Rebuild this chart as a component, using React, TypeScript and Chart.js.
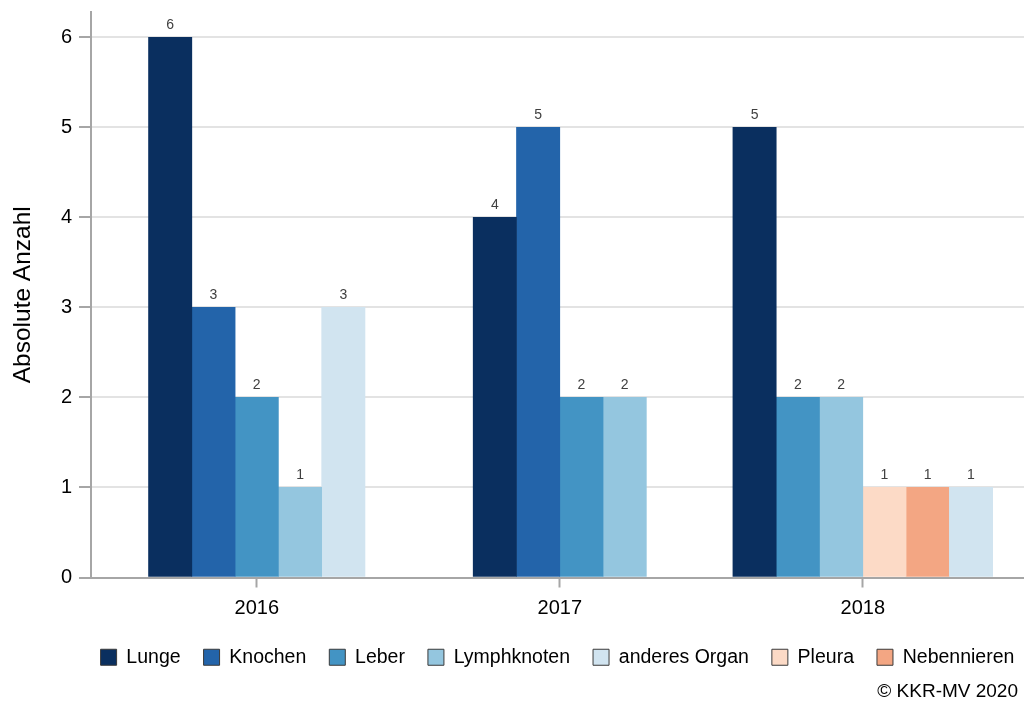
import React, { useEffect, useRef } from 'react';
import { Chart, registerables } from 'chart.js';

Chart.register(...registerables);

const FONT = '"Liberation Sans", Arial, Helvetica, sans-serif';

const years = ['2016', '2017', '2018'];
const seriesNames = ['Lunge', 'Knochen', 'Leber', 'Lymphknoten', 'anderes Organ', 'Pleura', 'Nebennieren'];
const lunge = [6, 4, 5];
const knochen = [3, 5, 0];
const leber = [2, 2, 2];
const lymphknoten = [1, 2, 2];
const anderesOrgan = [3, 0, 1];
const pleura = [0, 0, 1];
const nebennieren = [0, 0, 1];
const seriesColors = ['#0a2f5f', '#2364aa', '#4394c4', '#94c6df', '#d1e4f0', '#fcdac6', '#f3a683'];
// order in which bars appear inside a year group
const barOrder = ['Lunge', 'Knochen', 'Leber', 'Lymphknoten', 'Pleura', 'Nebennieren', 'anderes Organ'];
const yTicks = [0, 1, 2, 3, 4, 5, 6];
const yTitle = 'Absolute Anzahl';
const copyright = '© KKR-MV 2020';

const seriesValues: Record<string, number[]> = {
  'Lunge': lunge,
  'Knochen': knochen,
  'Leber': leber,
  'Lymphknoten': lymphknoten,
  'anderes Organ': anderesOrgan,
  'Pleura': pleura,
  'Nebennieren': nebennieren,
};

const SLOT = 1 / 7;

function buildPoints(name: string) {
  const pts: { x: number; y: number }[] = [];
  years.forEach((_, g) => {
    const v = seriesValues[name][g];
    if (!v) return;
    const present = barOrder.filter((n) => seriesValues[n][g] > 0);
    const i = present.indexOf(name);
    pts.push({ x: g + (i - (present.length - 1) / 2) * SLOT, y: v });
  });
  return pts;
}

const valueLabelPlugin = {
  id: 'valueLabels',
  afterDatasetsDraw(chart: any) {
    const ctx = chart.ctx;
    ctx.save();
    ctx.font = `14px ${FONT}`;
    ctx.fillStyle = '#404040';
    ctx.textAlign = 'center';
    ctx.textBaseline = 'alphabetic';
    chart.data.datasets.forEach((ds: any, i: number) => {
      const meta = chart.getDatasetMeta(i);
      meta.data.forEach((el: any, j: number) => {
        const v = ds.data[j].y;
        ctx.fillText(String(v), el.x, el.y - 8);
      });
    });
    ctx.restore();
  },
};

// center the single-row legend over the plot area instead of the canvas
const legendAlignPlugin = {
  id: 'legendOverPlot',
  afterLayout(chart: any) {
    const lg = chart.legend;
    if (!lg) return;
    lg.left = chart.chartArea.left - 40;
    lg.right = chart.chartArea.right + 40;
    lg.width = lg.right - lg.left;
  },
};

const copyrightPlugin = {
  id: 'copyrightText',
  afterDraw(chart: any) {
    const ctx = chart.ctx;
    ctx.save();
    ctx.font = `19px ${FONT}`;
    ctx.fillStyle = '#000';
    ctx.textAlign = 'right';
    ctx.textBaseline = 'middle';
    ctx.fillText(copyright, 1018, 692);
    ctx.restore();
  },
};

export default function App() {
  const ref = useRef<HTMLCanvasElement | null>(null);

  useEffect(() => {
    if (!ref.current) return;
    Chart.defaults.font.family = FONT;
    const axisGray = '#a6a6a6';
    const chart = new Chart(ref.current, {
      type: 'bar',
      data: {
        datasets: seriesNames.map((name, k) => ({
          label: name,
          data: buildPoints(name),
          backgroundColor: seriesColors[k],
          borderWidth: 0,
          grouped: false,
          barPercentage: 1,
          categoryPercentage: 1,
        })) as any,
      },
      options: {
        animation: false,
        responsive: false,
        maintainAspectRatio: false,
        layout: { padding: { top: 12, right: 0, bottom: 27, left: 0 } },
        scales: {
          x: {
            type: 'linear',
            min: -0.547,
            max: 2.532,
            offset: false,
            afterBuildTicks: (s: any) => {
              s.ticks = years.map((_, i) => ({ value: i }));
            },
            afterFit: (s: any) => {
              s.height = 47;
              s.paddingLeft = 0;
              s.paddingRight = 0;
            },
            ticks: {
              callback: (v: any) => years[v] ?? '',
              font: { size: 20, family: FONT },
              color: '#000',
              padding: 9,
              autoSkip: false,
              maxRotation: 0,
            },
            grid: {
              drawOnChartArea: false,
              drawTicks: true,
              tickLength: 10,
              tickColor: axisGray,
              tickWidth: 2,
              offset: false,
            },
            border: { color: axisGray, width: 2 },
          },
          y: {
            type: 'linear',
            min: 0,
            max: 6.28,
            afterBuildTicks: (s: any) => {
              s.ticks = yTicks.map((v) => ({ value: v }));
            },
            afterFit: (s: any) => {
              s.width = 91;
              s.paddingTop = 0;
              s.paddingBottom = 0;
            },
            ticks: {
              font: { size: 20, family: FONT },
              color: '#000',
              padding: 7,
            },
            grid: {
              color: (c: any) => (c.tick && c.tick.value === 0 ? axisGray : '#e3e3e3'),
              lineWidth: 2,
              tickLength: 12,
              tickColor: axisGray,
              tickWidth: 2,
            },
            border: { color: axisGray, width: 2 },
            title: {
              display: true,
              text: yTitle,
              font: { size: 24.5, family: FONT },
              color: '#000',
              padding: { top: 9, bottom: 0 },
            },
          },
        },
        plugins: {
          legend: {
            position: 'bottom',
            fullSize: true,
            labels: {
              boxWidth: 16,
              boxHeight: 16,
              padding: 23,
              color: '#000',
              font: { size: 19.5, family: FONT },
              generateLabels: (c: any) =>
                (Chart.defaults.plugins.legend.labels as any)
                  .generateLabels(c)
                  .map((l: any) => ({ ...l, strokeStyle: '#3a3a3a', lineWidth: 1 })),
            },
          },
          tooltip: { enabled: false },
          title: { display: false },
        },
      } as any,
      plugins: [valueLabelPlugin, legendAlignPlugin, copyrightPlugin],
    });
    return () => chart.destroy();
  }, []);

  return (
    <div style={{ position: 'absolute', left: 0, top: 0, width: 1024, height: 704, background: '#fff' }}>
      <canvas ref={ref} width={1024} height={704} style={{ width: 1024, height: 704, display: 'block' }} />
    </div>
  );
}
